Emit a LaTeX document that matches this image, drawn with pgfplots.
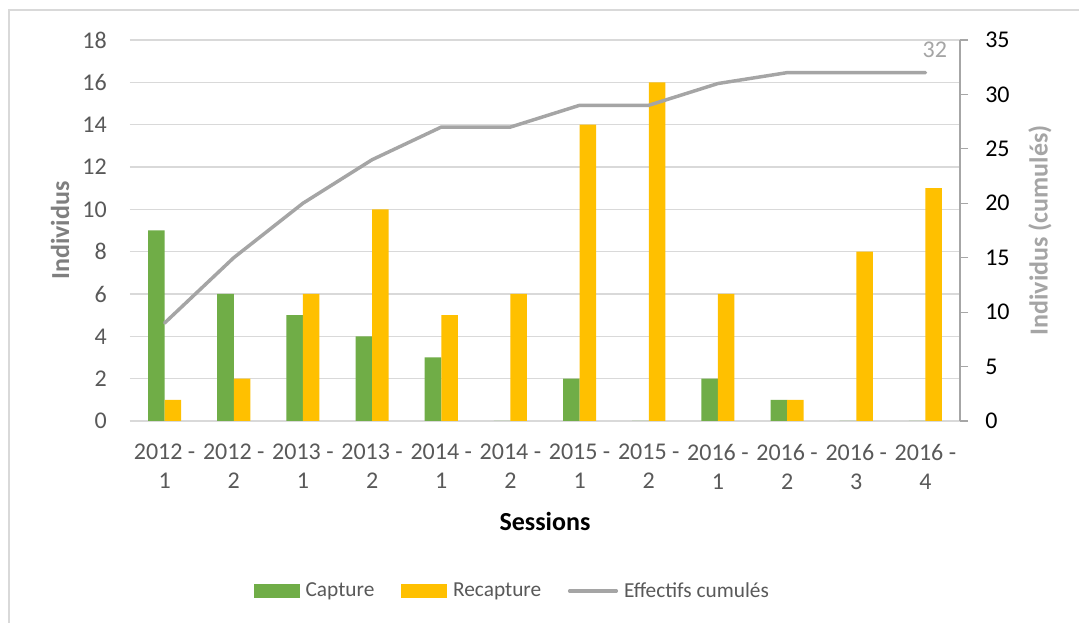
\documentclass[border=0pt]{standalone}
\usepackage{fontspec}
\setmainfont{Carlito}
\usepackage{pgfplots}
\pgfplotsset{compat=1.18}

\definecolor{capt}{HTML}{70AD47}
\definecolor{recapt}{HTML}{FFC000}
\definecolor{cumul}{HTML}{A5A5A5}
\definecolor{txt}{HTML}{595959}
\definecolor{ylab}{HTML}{7F7F7F}
\definecolor{gridc}{HTML}{D9D9D9}
\definecolor{axc}{HTML}{A6A6A6}
\definecolor{framec}{HTML}{D9D9D9}

\newcommand\tsize{\fontsize{18pt}{22pt}\selectfont}
\newcommand\lsize{\fontsize{16pt}{19.5pt}\selectfont}
\newcommand\titlesize{\fontsize{19.5pt}{23.5pt}\selectfont}

\pgfplotsset{
  sessionaxis/.style={
    at={(97.5pt,151.5pt)}, anchor=south west,
    scale only axis, width=622.5pt, height=285.75pt,
    xmin=-0.5, xmax=11.5,
    /pgf/number format/assume math mode=true,
  }
}

\begin{document}
\begin{tikzpicture}
\useasboundingbox (0,0) rectangle (809.25pt,467.25pt);
\fill[white] (0,0) rectangle (809.25pt,467.25pt);
\draw[framec, line width=1.5pt] (6.75pt,-2pt) -- (6.75pt,459.75pt) -- (812pt,459.75pt);

% bars: new captures and recaptures per session
\begin{axis}[
  sessionaxis,
  ymin=0, ymax=18,
  ytick={0,2,...,18},
  xtick={0,...,11},
  xticklabels={{2012 -\\1},{2012 -\\2},{2013 -\\1},{2013 -\\2},{2014 -\\1},{2014 -\\2},
               {2015 -\\1},{2015 -\\2},{2016 -\\1},{2016 -\\2},{2016 -\\3},{2016 -\\4}},
  xticklabel style={align=center, font=\tsize, text=txt, anchor=north, inner ysep=0pt, yshift=-17pt},
  yticklabel style={font=\tsize, text=txt, anchor=east, inner xsep=0pt, xshift=-17.25pt},
  major tick length=0pt,
  axis x line*=bottom, axis y line*=left,
  separate axis lines,
  x axis line style={draw=gridc, line width=1.5pt, -},
  y axis line style={draw=none},
  ymajorgrids, grid style={gridc, line width=0.9pt},
  ybar=0pt, bar width=12.4pt,
  xlabel={Sessions},
  xlabel style={at={(axis description cs:0.5,-0.2625)}, anchor=center, font=\titlesize\bfseries, text=black},
  ylabel={Individus},
  ylabel style={at={(axis description cs:-0.0843,0.5)}, anchor=center, font=\titlesize\bfseries, text=ylab},
  legend style={at={(0.461,-0.446)}, anchor=center, draw=none, fill=none,
    font=\lsize, text=txt, legend columns=3,
    /tikz/every even column/.append style={column sep=18pt}},
  legend cell align=left,
]
\addplot[fill=capt, draw=none,
  legend image code/.code={\fill[capt] (0pt,-5.25pt) rectangle (34.5pt,5.25pt); \path (37pt,0pt);}]
  coordinates {(0,9) (1,6) (2,5) (3,4) (4,3) (5,0) (6,2) (7,0) (8,2) (9,1) (10,0) (11,0)};
\addlegendentry{Capture}
\addplot[fill=recapt, draw=none,
  legend image code/.code={\fill[recapt] (0pt,-5.25pt) rectangle (34.5pt,5.25pt); \path (37pt,0pt);}]
  coordinates {(0,1) (1,2) (2,6) (3,10) (4,5) (5,6) (6,14) (7,16) (8,6) (9,1) (10,8) (11,11)};
\addlegendentry{Recapture}
\addlegendimage{cumul, line width=2.6pt, line cap=round,
  legend image code/.code={\draw (0pt,0pt) -- (35pt,0pt); \path (37.5pt,0pt);}}
\addlegendentry{Effectifs cumulés}
\end{axis}

% line: cumulative number of individuals (right axis)
\begin{axis}[
  sessionaxis,
  ymin=0, ymax=35,
  ytick={0,5,...,35},
  axis y line*=right, axis x line=none,
  y axis line style={draw=axc, line width=0.9pt, -},
  ytick style={draw=axc, line width=0.9pt},
  tick align=outside, major tick length=6pt,
  yticklabel style={font=\tsize, text=black, anchor=west, inner xsep=0pt, xshift=12.75pt},
  ylabel={Individus (cumulés)},
  ylabel style={at={(axis description cs:1.0964,0.5)}, anchor=center, font=\titlesize\bfseries, text=cumul},
]
\addplot[cumul, line width=2.6pt, line cap=round, line join=round]
  coordinates {(0,9) (1,15) (2,20) (3,24) (4,27) (5,27) (6,29) (7,29) (8,31) (9,32) (10,32) (11,32)};
\node[font=\tsize, text=cumul, anchor=south, inner sep=0pt, xshift=7pt, yshift=11pt] at (axis cs:11,32) {32};
\end{axis}
\end{tikzpicture}
\end{document}
